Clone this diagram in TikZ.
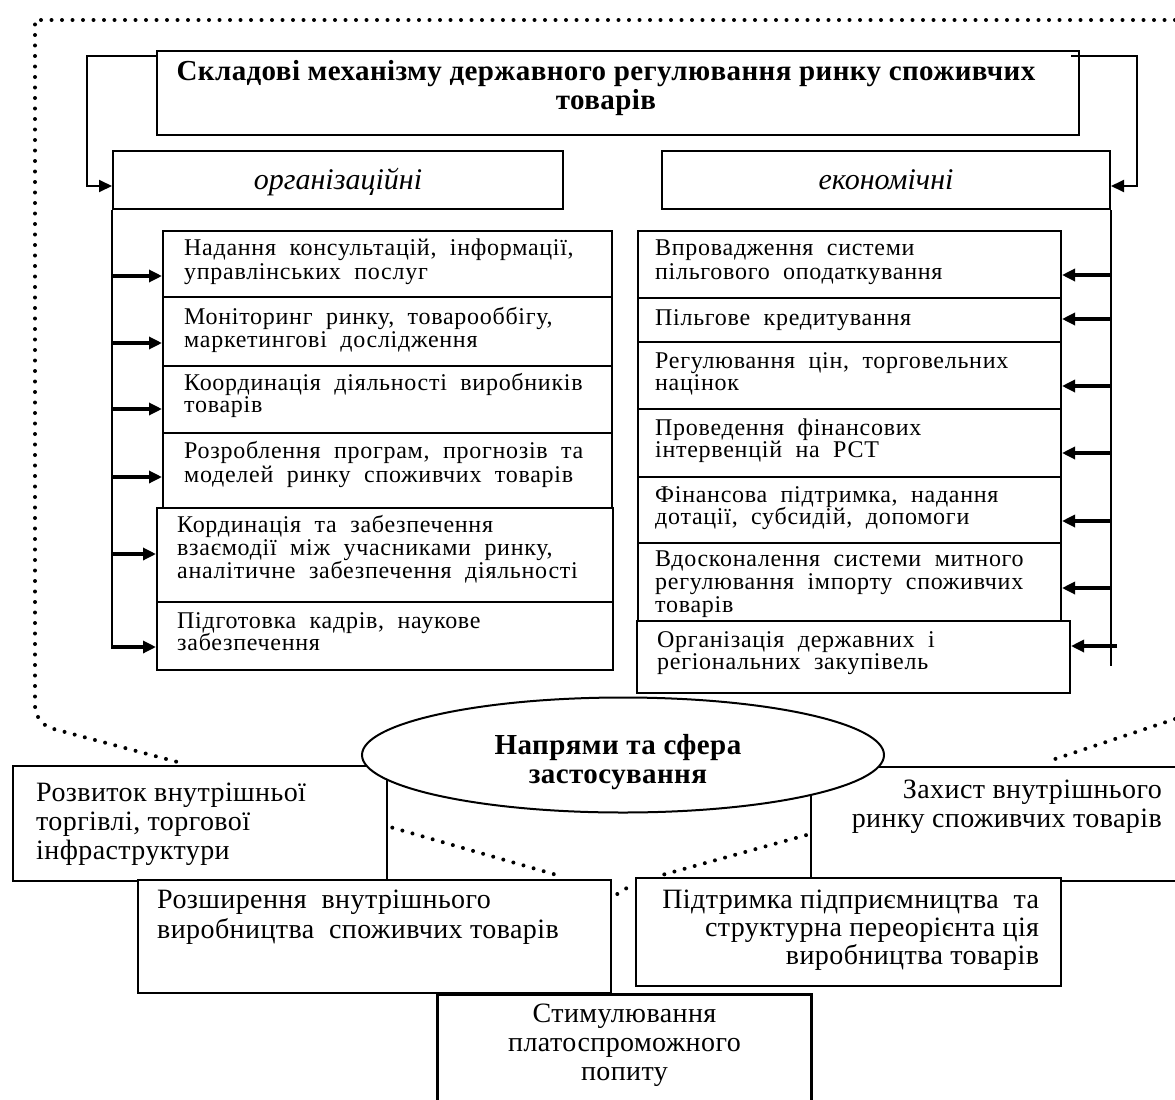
\documentclass[tikz,border=0pt]{standalone}
\usepackage{fontspec}
\setmainfont{Liberation Serif}
\newfontfamily\boxfont[LetterSpace=3, WordSpace=2]{Liberation Serif}
\newfontfamily\headfont[LetterSpace=1.4]{Liberation Serif}
\newfontfamily\lowfont[LetterSpace=1.5]{Liberation Serif}
\usetikzlibrary{arrows.meta,calc,shapes.geometric}

% stacked lines whose reference point is the baseline of the first line
\newcommand\rowsL[1]{\vtop{\lineskiplimit=-100pt\lineskip=0pt\halign{##\hfil\cr#1\crcr}}}
\newcommand\rowsR[1]{\vtop{\lineskiplimit=-100pt\lineskip=0pt\halign{\hfil##\cr#1\crcr}}}
\newcommand\rowsC[1]{\vtop{\lineskiplimit=-100pt\lineskip=0pt\halign{\hfil##\hfil\cr#1\crcr}}}

\tikzset{
  box/.style={draw, line width=2pt, inner sep=0pt, anchor=north west},
  lowbox/.style={draw, line width=2.3pt, inner sep=0pt, anchor=north west, fill=white},
  utxt/.style={inner sep=0pt, anchor=base west, font=\boxfont\fontsize{24}{#1}\selectfont},
  utxt/.default=22,
  ltxt/.style={inner sep=0pt, font=\lowfont\fontsize{28}{#1}\selectfont},
  ltxt/.default=29,
  htxt/.style={inner sep=0pt, anchor=base, font=\fontsize{30}{34}\selectfont\itshape},
  btxt/.style={inner sep=0pt, anchor=base, font=\headfont\fontsize{29}{29}\selectfont\bfseries},
  lnk/.style={line width=2pt},
  bus/.style={line width=2pt},
  arr/.style={line width=3.2pt, -{Triangle[length=13pt,width=12pt]}},
  lnkarr/.style={line width=2pt, -{Triangle[length=13pt,width=12pt]}},
  dots/.style={line width=4pt, dash pattern=on 0pt off 10.5pt, line cap=round},
}

\begin{document}
\begin{tikzpicture}[x=1pt,y=-1pt]
\useasboundingbox[fill=white] (0,0) rectangle (1175,1100);

% outer dotted frame
\draw[dots] (1175,20) -- (35,20) [rounded corners=18pt] -- (35,724) -- (185,764);
\draw[dots] (1175,719) -- (1046,762);

% title and the two groups
\node[box, minimum width=922pt, minimum height=84pt] (title) at (156,50) {};
\node[btxt] (titlet) at ($(title.north)+(-12,30)$)
  {\rowsC{Складові механізму державного регулювання ринку споживчих\cr товарів}};

\node[box, minimum width=450pt, minimum height=58pt] (org) at (112,150) {};
\node[htxt] (orgt) at ($(org.center)+(0,9)$) {організаційні};
\node[box, minimum width=448pt, minimum height=58pt] (econ) at (661,150) {};
\node[htxt] (econt) at ($(econ.center)+(0,9)$) {економічні};

\draw[lnkarr] ($(title.north west)+(0,6)$) -| ($(org.west)+(-25,6)$) -- ($(org.west)+(0,6)$);
\draw[lnkarr] ($(title.north east)+(-9,6)$) -| ($(econ.east)+(26,6)$) -- ($(econ.east)+(0,6)$);

% organisational measures
\node[box, minimum width=449pt, minimum height=66pt] (l1) at (162,230) {};
\node[box, minimum width=449pt, minimum height=69pt] (l2) at (162,296) {};
\node[box, minimum width=449pt, minimum height=67pt] (l3) at (162,365) {};
\node[box, minimum width=449pt, minimum height=75pt] (l4) at (162,432) {};
\node[box, minimum width=456pt, minimum height=94pt] (l5) at (156,507) {};
\node[box, minimum width=456pt, minimum height=68pt] (l6) at (156,601) {};

\node[utxt=24.5] (l1t) at ($(l1.north west)+(22,25)$) {\rowsL{Надання консультацій, інформації,\cr управлінських послуг}};
\node[utxt=23] (l2t) at ($(l2.north west)+(22,28)$) {\rowsL{Моніторинг ринку, товарооббігу,\cr маркетингові дослідження}};
\node[utxt=22] (l3t) at ($(l3.north west)+(22,25)$) {\rowsL{Координація діяльності виробників\cr товарів}};
\node[utxt=24] (l4t) at ($(l4.north west)+(22,26)$) {\rowsL{Розроблення програм, прогнозів та\cr моделей ринку споживчих товарів}};
\node[utxt=23] (l5t) at ($(l5.north west)+(21,25)$) {\rowsL{Кординація та забезпечення\cr взаємодії між учасниками ринку,\cr аналітичне забезпечення діяльності}};
\node[utxt=22] (l6t) at ($(l6.north west)+(21,27)$) {\rowsL{Підготовка кадрів, наукове\cr забезпечення}};

\draw[bus] (org.south west) -- ($(l6.west)+(-44,13)$);
\draw[arr] ($(l1.west)+(-50,12)$) -- ($(l1.west)+(0,12)$);
\draw[arr] ($(l2.west)+(-50,11.5)$) -- ($(l2.west)+(0,11.5)$);
\draw[arr] ($(l3.west)+(-50,9.5)$) -- ($(l3.west)+(0,9.5)$);
\draw[arr] ($(l4.west)+(-50,6.5)$) -- ($(l4.west)+(0,6.5)$);
\draw[arr] ($(l5.west)+(-44,-1)$) -- ($(l5.west)+(0,-1)$);
\draw[arr] ($(l6.west)+(-44,11)$) -- ($(l6.west)+(0,11)$);

% economic measures
\node[box, minimum width=423pt, minimum height=67pt] (r1) at (637,230) {};
\node[box, minimum width=423pt, minimum height=44pt] (r2) at (637,297) {};
\node[box, minimum width=423pt, minimum height=67pt] (r3) at (637,341) {};
\node[box, minimum width=423pt, minimum height=68pt] (r4) at (637,408) {};
\node[box, minimum width=423pt, minimum height=66pt] (r5) at (637,476) {};
\node[box, minimum width=423pt, minimum height=78pt] (r6) at (637,542) {};
\node[box, minimum width=433pt, minimum height=72pt] (r7) at (636,620) {};

\node[utxt=24] (r1t) at ($(r1.north west)+(18,25)$) {\rowsL{Впровадження системи\cr пільгового оподаткування}};
\node[utxt] (r2t) at ($(r2.north west)+(18,28)$) {Пільгове кредитування};
\node[utxt=22] (r3t) at ($(r3.north west)+(18,27)$) {\rowsL{Регулювання цін, торговельних\cr націнок}};
\node[utxt=22] (r4t) at ($(r4.north west)+(18,27)$) {\rowsL{Проведення фінансових\cr інтервенцій на РСТ}};
\node[utxt=22] (r5t) at ($(r5.north west)+(18,26)$) {\rowsL{Фінансова підтримка, надання\cr дотації, субсидій, допомоги}};
\node[utxt=23] (r6t) at ($(r6.north west)+(18,24)$) {\rowsL{Вдосконалення системи митного\cr регулювання імпорту споживчих\cr товарів}};
\node[utxt=22] (r7t) at ($(r7.north west)+(21,27)$) {\rowsL{Організація державних і\cr регіональних закупівель}};

\draw[bus] (econ.south east) -- ($(r7.east)+(40,9)$);
\draw[arr] ($(r1.east)+(49,10.5)$) -- ($(r1.east)+(0,10.5)$);
\draw[arr] ($(r2.east)+(49,-1)$) -- ($(r2.east)+(0,-1)$);
\draw[arr] ($(r3.east)+(49,10.5)$) -- ($(r3.east)+(0,10.5)$);
\draw[arr] ($(r4.east)+(49,10)$) -- ($(r4.east)+(0,10)$);
\draw[arr] ($(r5.east)+(49,11)$) -- ($(r5.east)+(0,11)$);
\draw[arr] ($(r6.east)+(49,6)$) -- ($(r6.east)+(0,6)$);
\draw[arr] ($(r7.east)+(46,-11)$) -- ($(r7.east)+(0,-11)$);

% directions and fields of application
\node[lowbox, minimum width=374pt, minimum height=115pt] (dev) at (12,765) {};
\node[lowbox, minimum width=375pt, minimum height=114pt] (prot) at (810,766) {};
\node[lowbox, minimum width=473pt, minimum height=113pt] (expand) at (137,879) {};
\node[lowbox, minimum width=425pt, minimum height=108pt] (supp) at (635,877) {};
\node[lowbox, line width=3pt, minimum width=374pt, minimum height=115pt] (stim) at (436,993) {};

\node[ltxt, anchor=base west] (devt) at ($(dev.north west)+(24,36)$) {\rowsL{Розвиток внутрішньої\cr торгівлі, торгової\cr інфраструктури}};
\node[ltxt, anchor=base east] (prott) at ($(prot.north west)+(352,32)$) {\rowsR{Захист внутрішнього\cr ринку споживчих товарів}};
\node[ltxt=30, anchor=base west] (expandt) at ($(expand.north west)+(20,29)$) {\rowsL{Розширення \ внутрішнього\cr виробництва \ споживчих товарів}};
\node[ltxt=28, anchor=base east] (suppt) at ($(supp.north east)+(-23,31)$) {\rowsR{Підтримка підприємництва \ та\cr структурна переорієнта ція\cr виробництва товарів}};
\node[ltxt, anchor=base] (stimt) at ($(stim.north)+(0,29)$) {\rowsC{Стимулювання\cr платоспроможного\cr попиту}};

\node[draw, ellipse, line width=2pt, fill=white, minimum width=522pt, minimum height=115pt, inner sep=0pt] (dir) at (623,755) {};
\node[btxt] (dirt) at ($(dir.center)+(-5,-1)$) {\rowsC{Напрями та сфера\cr застосування}};

% dotted links between the fields
\draw[dots] ($(dev.east)+(4,4)$) -- ($(expand.north east)+(-52,-3)$);
\draw[dots] ($(prot.west)+(-4,11)$) -- ($(supp.north west)+(27,-2)$);
\draw[dots] ($(expand.north east)+(5,15)$) -- ($(supp.north west)+(-5,9)$);
\end{tikzpicture}
\end{document}
